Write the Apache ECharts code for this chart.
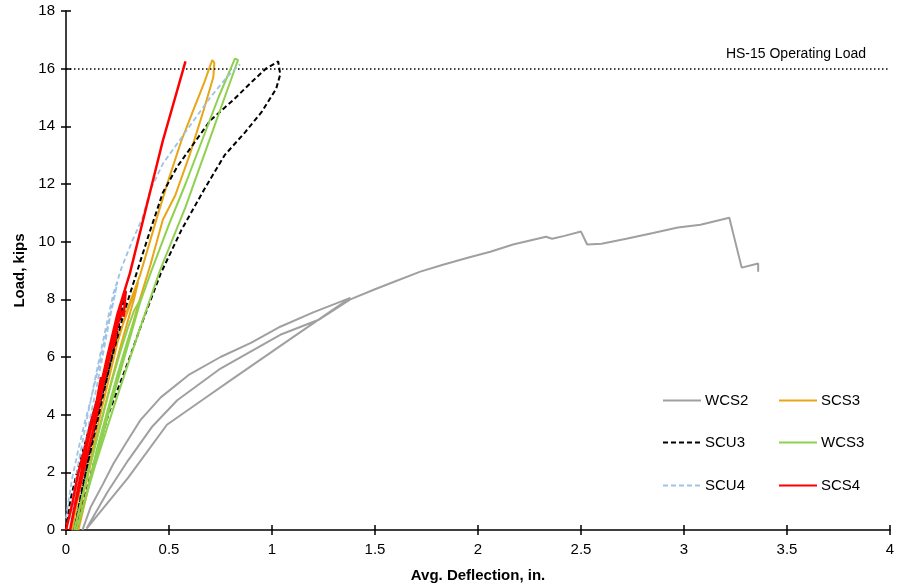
<!DOCTYPE html>
<html>
<head>
<meta charset="utf-8">
<script src="https://cdn.jsdelivr.net/npm/echarts@6/dist/echarts.min.js"></script>
<style>
  html, body { margin: 0; padding: 0; background: #fff; }
  #chart { width: 899px; height: 588px; }
</style>
</head>
<body>
<div id="chart"></div>
<script>
// Load–deflection records, [deflection (in.), load (kips)], in test order
const WCS2 = [
  [0.08, 0.0], [0.12, 0.8], [0.18, 1.6], [0.23, 2.3], [0.29, 3.0], [0.36, 3.8], [0.46, 4.6],
  [0.6, 5.4], [0.75, 6.0], [0.9, 6.5], [1.04, 7.05], [1.2, 7.55], [1.38, 8.05],
  [1.09, 6.63], [0.8, 5.2], [0.66, 4.5], [0.49, 3.65], [0.3, 1.8], [0.1, 0.05],
  [0.2, 1.3], [0.3, 2.4], [0.42, 3.6], [0.54, 4.5], [0.75, 5.6], [1.04, 6.77], [1.23, 7.3], [1.38, 8.0],
  [1.5, 8.35], [1.59, 8.6], [1.72, 8.96], [1.83, 9.2], [1.95, 9.44], [2.06, 9.65], [2.17, 9.9],
  [2.33, 10.17], [2.36, 10.1], [2.42, 10.2], [2.5, 10.35], [2.53, 9.9], [2.6, 9.93], [2.72, 10.1],
  [2.85, 10.3], [2.97, 10.49], [3.08, 10.59], [3.22, 10.83], [3.28, 9.1], [3.36, 9.24], [3.36, 8.96]
];
const SCS3 = [
  [0.03, 0.0], [0.05, 0.8], [0.08, 1.8], [0.12, 3.0], [0.16, 4.3], [0.2, 5.5], [0.24, 6.5],
  [0.27, 7.0], [0.3, 7.6], [0.33, 8.2], [0.35, 8.6],
  [0.33, 8.0], [0.27, 6.5], [0.2, 4.6], [0.13, 2.6], [0.07, 0.8], [0.05, 0.0],
  [0.1, 1.8], [0.15, 3.5], [0.2, 5.0], [0.25, 6.5], [0.3, 7.7], [0.36, 8.85], [0.44, 10.8],
  [0.5, 12.2], [0.56, 13.5], [0.62, 14.6], [0.67, 15.5], [0.71, 16.3],
  [0.72, 16.2], [0.715, 15.7], [0.67, 14.6], [0.6, 13.0], [0.53, 11.6], [0.47, 10.76],
  [0.41, 9.2], [0.35, 7.8], [0.28, 6.0], [0.2, 4.0], [0.12, 1.8], [0.06, 0.0]
];
const SCU3 = [
  [0.0, 0.0], [0.02, 1.0], [0.05, 1.9], [0.1, 3.2], [0.15, 4.5], [0.2, 5.8], [0.25, 7.2], [0.29, 8.3],
  [0.26, 7.2], [0.2, 5.3], [0.14, 3.4], [0.08, 1.5], [0.04, 0.0],
  [0.08, 1.4], [0.12, 2.9], [0.17, 4.5], [0.22, 5.9], [0.28, 7.5], [0.34, 8.85], [0.4, 10.2],
  [0.47, 11.7], [0.54, 12.6], [0.6, 13.2], [0.7, 14.2], [0.81, 14.9], [0.91, 15.6], [0.97, 16.0], [1.03, 16.25],
  [1.04, 15.8], [1.02, 15.3], [0.95, 14.5], [0.87, 13.8], [0.77, 13.0], [0.67, 11.8], [0.56, 10.4],
  [0.46, 8.9], [0.38, 7.4], [0.3, 5.8], [0.21, 4.1], [0.13, 2.2], [0.05, 0.0]
];
const WCS3 = [
  [0.04, 0.0], [0.07, 0.9], [0.1, 1.8], [0.14, 2.9], [0.18, 4.0], [0.22, 5.1], [0.26, 6.1],
  [0.3, 7.0], [0.33, 7.6], [0.37, 8.1],
  [0.36, 7.9], [0.3, 6.4], [0.22, 4.4], [0.14, 2.3], [0.08, 0.7], [0.05, 0.0],
  [0.1, 1.3], [0.15, 2.8], [0.2, 4.1], [0.25, 5.4], [0.3, 6.6], [0.36, 7.9], [0.41, 8.9],
  [0.5, 10.6], [0.58, 12.0], [0.66, 13.5], [0.74, 15.0], [0.82, 16.35],
  [0.835, 16.3], [0.77, 15.0], [0.7, 13.6], [0.58, 11.2], [0.456, 9.0], [0.35, 6.8],
  [0.238, 4.4], [0.14, 2.2], [0.05, 0.0]
];
const SCU4 = [
  [0.0, 0.4], [0.01, 0.9], [0.03, 1.8], [0.06, 2.8], [0.09, 3.7], [0.12, 4.5], [0.16, 5.7],
  [0.2, 7.0], [0.23, 7.9], [0.25, 8.6],
  [0.22, 7.6], [0.15, 5.0], [0.08, 2.6], [0.02, 0.4],
  [0.06, 2.3], [0.1, 3.8], [0.14, 5.2], [0.19, 6.9], [0.23, 8.2], [0.27, 9.1], [0.32, 10.0],
  [0.37, 10.8], [0.41, 11.8], [0.47, 12.7], [0.54, 13.4], [0.62, 14.2], [0.7, 15.0], [0.78, 15.7], [0.845, 16.15]
];
const SCS4 = [
  [0.0, 0.0], [0.03, 0.9], [0.06, 2.0], [0.09, 2.8], [0.12, 3.7], [0.15, 4.5], [0.17, 5.3],
  [0.18, 5.1], [0.2, 5.8], [0.22, 6.5], [0.23, 6.3], [0.25, 7.1], [0.27, 7.6], [0.28, 7.4], [0.29, 8.3],
  [0.27, 7.9], [0.23, 6.6], [0.18, 5.0], [0.13, 3.4], [0.08, 1.9], [0.04, 0.7], [0.02, 0.0],
  [0.06, 1.5], [0.1, 2.9], [0.15, 4.4], [0.2, 6.0], [0.25, 7.5], [0.31, 8.9], [0.39, 11.2],
  [0.47, 13.5], [0.53, 15.0], [0.58, 16.25]
];

const operatingLoad = 16;
const operatingLoadLabel = 'HS-15 Operating Load';

const xRange = { min: 0, max: 4, interval: 0.5 };
const yRange = { min: 0, max: 18, interval: 2 };

const FONT = '"Liberation Sans", Arial, Helvetica, sans-serif';

const seriesDefs = [
  { name: 'WCS2', data: WCS2, color: '#A0A0A0', width: 2, type: 'solid' },
  { name: 'SCS3', data: SCS3, color: '#E8A515', width: 2, type: 'solid' },
  { name: 'SCU3', data: SCU3, color: '#000000', width: 2, type: [5, 3] },
  { name: 'WCS3', data: WCS3, color: '#8ED14F', width: 2, type: 'solid' },
  { name: 'SCU4', data: SCU4, color: '#9DC3E6', width: 1.8, type: [5, 3] },
  { name: 'SCS4', data: SCS4, color: '#FF0000', width: 2.5, type: 'solid' }
];

// legend slots: two columns, three rows
const legendSlots = [
  { left: 662, top: 393 }, { left: 778, top: 393 },
  { left: 662, top: 435 }, { left: 778, top: 435 },
  { left: 662, top: 478 }, { left: 778, top: 478 }
];

const series = seriesDefs.map(function (d, i) {
  const s = {
    name: d.name,
    type: 'line',
    data: d.data,
    xAxisIndex: 0,
    yAxisIndex: 0,
    symbol: 'none',
    showSymbol: false,
    smooth: false,
    color: d.color,
    lineStyle: { color: d.color, width: d.width, type: d.type },
    z: 3 + i
  };
  if (i === 0) {
    s.markLine = {
      silent: true,
      symbol: 'none',
      animation: false,
      lineStyle: { color: '#000', width: 1.5, type: [1.5, 2.5] },
      label: {
        show: true,
        position: 'insideEndTop',
        formatter: operatingLoadLabel,
        color: '#000',
        fontFamily: FONT,
        fontSize: 14,
        distance: [24, 8]
      },
      data: [{ yAxis: operatingLoad }]
    };
  }
  return s;
});

const legends = seriesDefs.map(function (d, i) {
  return {
    data: [d.name],
    left: legendSlots[i].left,
    top: legendSlots[i].top,
    orient: 'horizontal',
    itemWidth: 38,
    itemHeight: 14,
    itemGap: 0,
    padding: 0,
    selectedMode: false,
    itemStyle: { opacity: 0 },
    textStyle: { color: '#000', fontFamily: FONT, fontSize: 15, padding: [0, 0, 0, -1] }
  };
});

const axisLineStyle = { show: true, lineStyle: { color: '#000', width: 1.5 } };

const option = {
  animation: false,
  backgroundColor: '#fff',
  grid: { left: 66, right: 9, top: 11, bottom: 58, containLabel: false },
  legend: legends,
  xAxis: [
    {
      type: 'value', min: xRange.min, max: xRange.max, interval: xRange.interval,
      position: 'bottom',
      name: 'Avg. Deflection, in.', nameLocation: 'middle', nameGap: 38,
      nameTextStyle: { fontFamily: FONT, fontSize: 15, fontWeight: 'bold', color: '#000' },
      axisLine: axisLineStyle,
      axisTick: { show: true, inside: false, length: 5, lineStyle: { color: '#000', width: 1.5 } },
      axisLabel: { fontFamily: FONT, fontSize: 15, color: '#000', margin: 12 },
      splitLine: { show: false }
    },
    {
      type: 'value', min: xRange.min, max: xRange.max, interval: xRange.interval,
      position: 'bottom',
      axisLine: { show: false },
      axisTick: { show: true, inside: true, length: 5, lineStyle: { color: '#000', width: 1.5 } },
      axisLabel: { show: false },
      splitLine: { show: false }
    }
  ],
  yAxis: [
    {
      type: 'value', min: yRange.min, max: yRange.max, interval: yRange.interval,
      position: 'left',
      name: 'Load, kips', nameLocation: 'middle', nameGap: 37, nameRotate: 90,
      nameTextStyle: { fontFamily: FONT, fontSize: 15, fontWeight: 'bold', color: '#000' },
      axisLine: axisLineStyle,
      axisTick: { show: true, inside: false, length: 5, lineStyle: { color: '#000', width: 1.5 } },
      axisLabel: { fontFamily: FONT, fontSize: 15, color: '#000', margin: 11 },
      splitLine: { show: false }
    },
    {
      type: 'value', min: yRange.min, max: yRange.max, interval: yRange.interval,
      position: 'left',
      axisLine: { show: false },
      axisTick: { show: true, inside: true, length: 5, lineStyle: { color: '#000', width: 1.5 } },
      axisLabel: { show: false },
      splitLine: { show: false }
    }
  ],
  series: series
};

const chart = echarts.init(document.getElementById('chart'), null, { renderer: 'canvas' });
chart.setOption(option);
</script>
</body>
</html>
